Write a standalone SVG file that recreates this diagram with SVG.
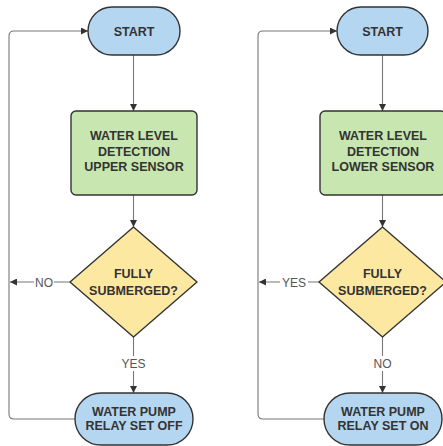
<svg xmlns="http://www.w3.org/2000/svg" width="443" height="446" viewBox="0 0 443 446">
  <defs>
    <marker id="arr" viewBox="0 0 10 10" refX="10" refY="5" markerWidth="7" markerHeight="7" markerUnits="userSpaceOnUse" orient="auto">
      <path d="M0,0 L10,5 L0,10 Z" fill="#333"/>
    </marker>
    <style>
      .term { fill: #b5d6f0; stroke: #333; stroke-width: 1.4; }
      .proc { fill: #c8e6b0; stroke: #333; stroke-width: 1.4; }
      .dec { fill: #fde8a2; stroke: #333; stroke-width: 1.4; stroke-linejoin: round; }
      .t { font-family: "Liberation Sans", Arial, sans-serif; font-weight: bold; font-size: 12.5px; fill: #333; text-anchor: middle; }
      .lbl { font-family: "Liberation Sans", Arial, sans-serif; font-size: 12px; fill: #555; text-anchor: middle; }
      .c { fill: none; stroke: #777; stroke-width: 1.1; }
    </style>
  </defs>
  <rect width="443" height="446" fill="#fff"/>

  <g id="connectors">
    <path class="c" d="M133.5,55 V111" marker-end="url(#arr)"/>
    <path class="c" d="M133.5,195 V227" marker-end="url(#arr)"/>
    <path class="c" d="M133.5,337 V393" marker-end="url(#arr)"/>
    <path class="c" d="M70,282 H10" marker-end="url(#arr)"/>
    <path class="c" d="M75,419 H14 Q9,419 9,414 V36 Q9,31 14,31 H88" marker-end="url(#arr)"/>
    <path class="c" d="M382.5,55 V111" marker-end="url(#arr)"/>
    <path class="c" d="M382.5,195 V227" marker-end="url(#arr)"/>
    <path class="c" d="M382.5,337 V393" marker-end="url(#arr)"/>
    <path class="c" d="M319,282 H259" marker-end="url(#arr)"/>
    <path class="c" d="M324,419 H263 Q258,419 258,414 V36 Q258,31 263,31 H337" marker-end="url(#arr)"/>
  </g>

  <g id="labels">
    <rect x="34" y="274" width="20" height="15" fill="#fff"/>
    <text class="lbl" x="44" y="286.5">NO</text>
    <rect x="120" y="356" width="27" height="15" fill="#fff"/>
    <text class="lbl" x="133.5" y="368">YES</text>
    <rect x="280" y="274" width="28" height="15" fill="#fff"/>
    <text class="lbl" x="294" y="286.5">YES</text>
    <rect x="372" y="356" width="21" height="15" fill="#fff"/>
    <text class="lbl" x="382.5" y="368">NO</text>
  </g>

  <g id="start1">
    <rect class="term" x="88" y="7" width="92" height="48" rx="24"/>
    <text class="t" x="134" y="35.5">START</text>
  </g>
  <g id="detect1">
    <rect class="proc" x="71" y="111" width="126" height="84" rx="5"/>
    <text class="t" x="134" y="139.5">WATER LEVEL</text>
    <text class="t" x="134" y="155.5">DETECTION</text>
    <text class="t" x="134" y="170.5">UPPER SENSOR</text>
  </g>
  <g id="decision1">
    <path class="dec" d="M133.5,227 L197,282 L133.5,337 L70,282 Z"/>
    <text class="t" x="133.5" y="277.5">FULLY</text>
    <text class="t" x="133.5" y="294.5">SUBMERGED?</text>
  </g>
  <g id="pump1">
    <rect class="term" x="75" y="393" width="118" height="52" rx="26"/>
    <text class="t" x="134" y="415.5">WATER PUMP</text>
    <text class="t" x="134" y="429.5">RELAY SET OFF</text>
  </g>

  <g id="start2">
    <rect class="term" x="337" y="7" width="91" height="48" rx="24"/>
    <text class="t" x="382.5" y="35.5">START</text>
  </g>
  <g id="detect2">
    <rect class="proc" x="320" y="111" width="126" height="84" rx="5"/>
    <text class="t" x="383" y="139.5">WATER LEVEL</text>
    <text class="t" x="383" y="155.5">DETECTION</text>
    <text class="t" x="383" y="170.5">LOWER SENSOR</text>
  </g>
  <g id="decision2">
    <path class="dec" d="M382.5,227 L446,282 L382.5,337 L319,282 Z"/>
    <text class="t" x="382.5" y="277.5">FULLY</text>
    <text class="t" x="382.5" y="294.5">SUBMERGED?</text>
  </g>
  <g id="pump2">
    <rect class="term" x="324" y="393" width="118" height="52" rx="26"/>
    <text class="t" x="383" y="415.5">WATER PUMP</text>
    <text class="t" x="383" y="429.5">RELAY SET ON</text>
  </g>
</svg>
